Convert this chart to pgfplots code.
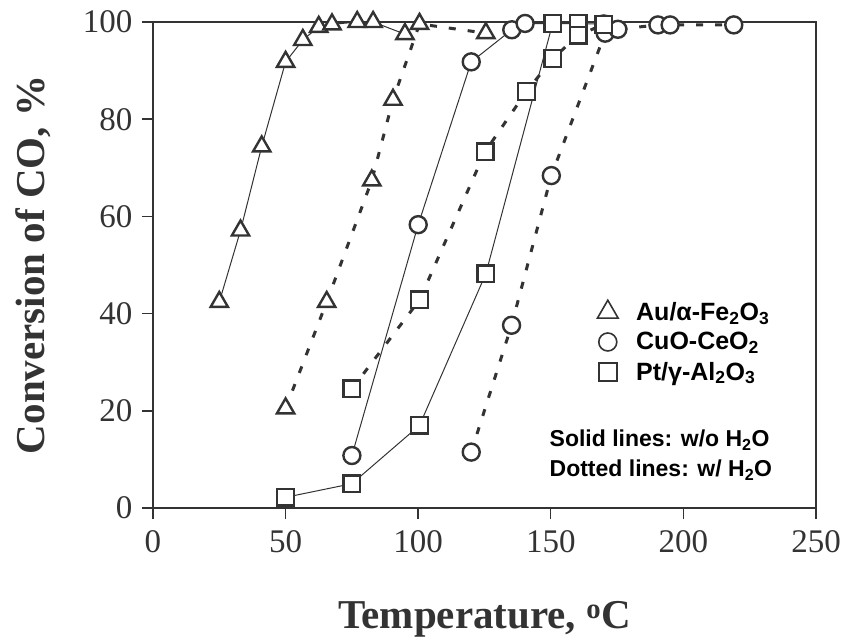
\documentclass[border=0pt]{standalone}
\usepackage{fontspec}
\setmainfont{Liberation Serif}
\newfontfamily\arial{Liberation Sans}
\usepackage{pgfplots}
\pgfplotsset{compat=1.18}
\definecolor{ink}{HTML}{333333}

\begin{document}
\begin{tikzpicture}
\begin{axis}[
  scale only axis,
  width=663pt, height=486pt,
  xmin=0, xmax=250, ymin=0, ymax=100,
  xtick={0,50,...,250}, ytick={0,20,...,100},
  axis line style={ink, line width=1.6pt},
  tick style={ink, line width=1.4pt},
  tick align=outside, major tick length=11pt,
  xtick pos=bottom, ytick pos=left,
  tick label style={font=\fontsize{33}{33}\selectfont, text=ink},
  /pgf/number format/assume math mode=true,
  xticklabel style={yshift=-8pt},
  yticklabel style={xshift=-6pt},
  xlabel={\textbf{Temperature, \textsuperscript{o}C}},
  ylabel={\textbf{Conversion of CO, \%}},
  label style={font=\fontsize{41}{41}\selectfont, text=ink},
  xlabel style={at={(axis description cs:0.5,-0.228)}, anchor=center},
  ylabel style={at={(axis description cs:-0.181,0.5)}, anchor=center},
  clip=false,
  legend style={at={(axis cs:167.5,42.8)}, anchor=north west, draw=none, fill=none,
    font=\arial\bfseries\fontsize{25}{25}\selectfont, row sep=6.5pt, column sep=16pt,
    cells={anchor=west}, inner sep=0pt},
  solidline/.style={ink, line width=1pt},
  dotline/.style={ink, line width=3pt, dash pattern=on 7pt off 12pt},
  mk/.style={mark options={solid, draw=ink, line width=2.4pt, fill=white}},
]
% legend images only
\addlegendimage{only marks, ink, mark=triangle, mark size=12pt, mark options={line width=1.6pt}}
\addlegendentry{Au/α-Fe\textsubscript{2}O\textsubscript{3}}
\addlegendimage{only marks, ink, mark=o, mark size=9pt, mark options={line width=1.6pt}}
\addlegendentry{CuO-CeO\textsubscript{2}}
\addlegendimage{only marks, ink, mark=square, mark size=9pt, mark options={line width=1.6pt}}
\addlegendentry{Pt/γ-Al\textsubscript{2}O\textsubscript{3}}

% Au/a-Fe2O3, without water
\addplot[solidline, mark=triangle*, mark size=10pt, mk, forget plot] coordinates {
  (25,42.4) (33,57.1) (41,74.4) (50,91.8) (56.5,96.3) (62.5,99) (67.5,99.5)
  (77,100) (83,100) (95,97.5)};
% Au/a-Fe2O3, with water
\addplot[dotline, mark=triangle*, mark size=10pt, mk, forget plot] coordinates {
  (50,20.5) (65.5,42.4) (82.5,67.4) (90.5,84) (100.5,99.6) (125.5,97.7)};
% CuO-CeO2, without water
\addplot[solidline, mark=*, mark size=8.5pt, mk, forget plot] coordinates {
  (75,10.8) (100,58.3) (120,91.8) (135.3,98.4) (140.3,99.7) (170,99.6)};
% CuO-CeO2, with water
\addplot[dotline, mark=*, mark size=8.5pt, mk, forget plot] coordinates {
  (120,11.5) (135.2,37.6) (150.2,68.4) (170.5,97.7) (175.3,98.5)
  (190.4,99.4) (195,99.4) (219,99.4)};
% Pt/g-Al2O3, without water
\addplot[solidline, mark=square*, mark size=8.3pt, mk, forget plot] coordinates {
  (50,2.2) (75,5) (100.5,17) (125.5,48.2) (150.7,99.7) (160.4,99.7)};
% Pt/g-Al2O3, with water
\addplot[dotline, mark=square*, mark size=8.3pt, mk, forget plot] coordinates {
  (75,24.5) (100.5,42.8) (125.2,73.3) (140.8,85.7) (150.8,92.5) (160.4,97.3) (170,99.5)};

\node[anchor=west, align=left, inner sep=0pt, font=\arial\bfseries\fontsize{23}{30}\selectfont]
  at (axis cs:149.5,10.9) {Solid lines: w/o H\textsubscript{2}O\\Dotted lines: w/ H\textsubscript{2}O};
\end{axis}
\pgfresetboundingbox
\path (current axis.south west) ++(-153pt,-132pt) rectangle ++(844pt,640pt);
\end{tikzpicture}
\end{document}
